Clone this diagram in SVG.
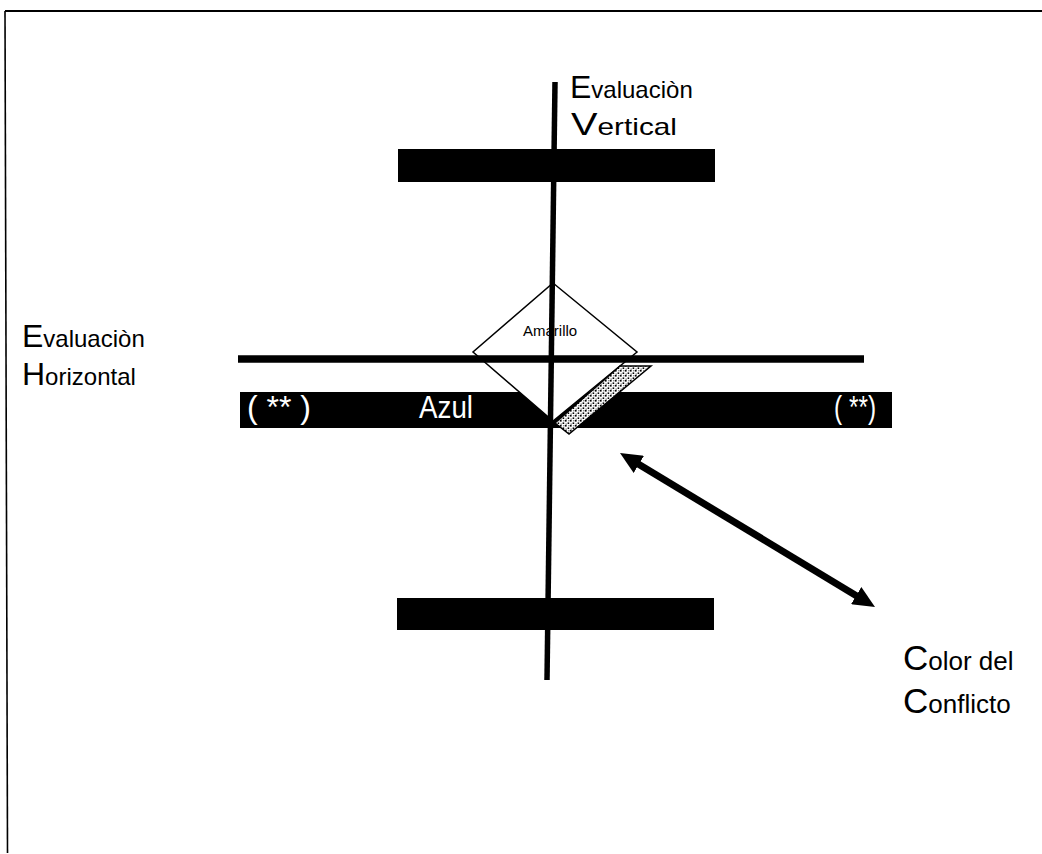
<svg xmlns="http://www.w3.org/2000/svg" width="1042" height="854" viewBox="0 0 1042 854">
  <defs>
    <style>
      .bar { fill: #000; }
      .lbl { font-family: "Liberation Sans", Arial, sans-serif; fill: #000; }
      .big { font-size: 32px; }
      .sm { font-size: 24px; }
      .wt { font-family: "Liberation Sans", Arial, sans-serif; fill: #fff; font-size: 32px; }
      .thin { fill: #fff; stroke: #000; stroke-width: 1.5; }
    </style>
    <pattern id="stipple" width="5" height="5" patternUnits="userSpaceOnUse">
      <rect width="5" height="5" fill="#fff"/>
      <rect x="0" y="0" width="1.6" height="1.6" fill="#000"/>
      <rect x="2.6" y="2.4" width="1.6" height="1.6" fill="#000"/>
      <rect x="3.4" y="0.3" width="1" height="1" fill="#000"/>
      <rect x="0.6" y="3.6" width="1" height="1" fill="#000"/>
    </pattern>
    <marker id="head" viewBox="0 0 22 20" markerWidth="22" markerHeight="20" refX="6" refY="10" orient="auto-start-reverse" markerUnits="userSpaceOnUse">
      <path d="M0,0 L22,10 L0,20 Z" fill="#000"/>
    </marker>
  </defs>

  <rect width="1042" height="854" fill="#fff"/>

  <g id="frame" stroke="#000" fill="none">
    <line x1="5" y1="11" x2="1042" y2="11" stroke-width="2"/>
    <line x1="5" y1="11" x2="7.5" y2="853" stroke-width="1.6"/>
  </g>

  <g id="bar-top"><rect class="bar" x="398" y="149" width="317" height="33"/></g>
  <g id="bar-bottom"><rect class="bar" x="397" y="598" width="317" height="32"/></g>

  <g id="bar-azul">
    <rect class="bar" x="240" y="392" width="652" height="36"/>
    <text class="wt" x="247" y="418" textLength="64" lengthAdjust="spacingAndGlyphs">( ** )</text>
    <text class="wt" x="419" y="418" textLength="54" lengthAdjust="spacingAndGlyphs">Azul</text>
    <text class="wt" x="834" y="418" textLength="42" lengthAdjust="spacingAndGlyphs">( **)</text>
  </g>

  <g id="diamond">
    <polygon class="thin" points="553,283 637,352 553,421 473,352"/>
    <text class="lbl" x="523" y="336" font-size="15">Amarillo</text>
  </g>

  <g id="stripe">
    <polygon points="620,366 651,366 569,434 555,423" fill="url(#stipple)" stroke="#000" stroke-width="1.5"/>
  </g>

  <g id="h-line"><line x1="238" y1="359" x2="864" y2="359" stroke="#000" stroke-width="7.5"/></g>
  <g id="v-line"><line x1="555" y1="82" x2="547" y2="680" stroke="#000" stroke-width="5.5"/></g>

  <g id="label-vertical">
    <text class="lbl" x="570" y="98"><tspan class="big">E</tspan><tspan class="sm">valuaciòn</tspan></text>
    <text class="lbl" x="571" y="135" textLength="106" lengthAdjust="spacingAndGlyphs"><tspan class="big">V</tspan><tspan class="sm">ertical</tspan></text>
  </g>

  <g id="label-horizontal">
    <text class="lbl" x="22" y="347"><tspan class="big">E</tspan><tspan class="sm">valuaciòn</tspan></text>
    <text class="lbl" x="22" y="385"><tspan class="big">H</tspan><tspan class="sm">orizontal</tspan></text>
  </g>

  <g id="label-conflicto">
    <text class="lbl" x="903" y="670"><tspan font-size="35">C</tspan><tspan font-size="26">olor del</tspan></text>
    <text class="lbl" x="903" y="713"><tspan font-size="35">C</tspan><tspan font-size="26">onflicto</tspan></text>
  </g>

  <g id="connectors">
    <line x1="633.7" y1="461.3" x2="861.3" y2="598.7" stroke="#000" stroke-width="7" marker-start="url(#head)" marker-end="url(#head)"/>
  </g>
</svg>
